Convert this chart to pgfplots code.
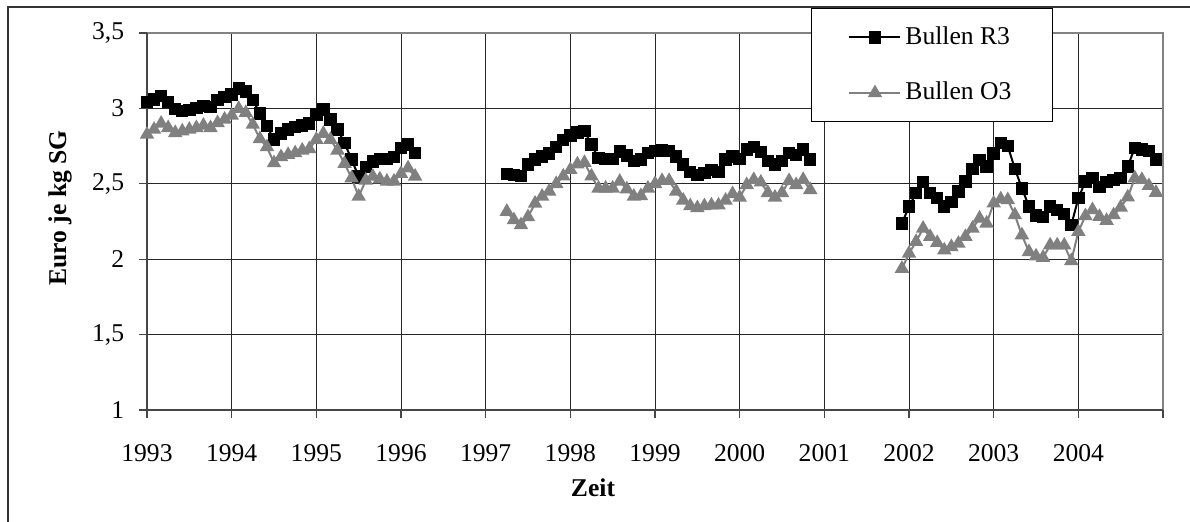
\documentclass[border=0pt]{standalone}
\usepackage{fontspec}
\setmainfont{Liberation Serif}
\usepackage{pgfplots}
\pgfplotsset{compat=1.18}
\definecolor{axgray}{RGB}{70,70,70}
\definecolor{framegray}{RGB}{130,130,130}
\definecolor{seriesgray}{RGB}{128,128,128}
\begin{document}
\fontsize{12.8}{15.4}\selectfont
\begin{tikzpicture}
\begin{axis}[
  scale only axis,
  width=508pt, height=188.5pt,
  xmin=0, xmax=144,
  ymin=1, ymax=3.5,
  xtick={0,12,24,36,48,60,72,84,96,108,120,132,144},
  xticklabels={1993,1994,1995,1996,1997,1998,1999,2000,2001,2002,2003,2004,},
  ytick={1,1.5,2,2.5,3,3.5},
  yticklabels={1,{1,5},2,{2,5},3,{3,5}},
  xtick pos=bottom, ytick pos=left,
  tick align=outside,
  major tick length=4pt,
  tick style={axgray, line width=0.6pt},
  grid=major,
  major grid style={black!85, line width=0.5pt},
  axis line style={draw=none},
  xticklabel style={yshift=-9pt},
  yticklabel style={xshift=-3pt},
  clip=false,
  unbounded coords=jump,
  xlabel={\bfseries Zeit},
  xlabel style={at={(rel axis cs:0.439,-0.207)}, anchor=center},
  ylabel={\bfseries Euro je kg SG},
  ylabel style={at={(rel axis cs:-0.0856,0.536)}, anchor=center},
  legend cell align=left,
  legend style={at={(rel axis cs:0.6535,1.066)}, anchor=north west,
    draw=black, line width=0.5pt, fill=white,
    inner xsep=18.5pt, inner ysep=7pt, row sep=13pt,
    font=\fontsize{12.8}{15.4}\selectfont},
  legend image code/.code={\draw[mark repeat=2,mark phase=2] plot coordinates {(0pt,0pt) (12.75pt,0pt) (25.5pt,0pt)};},
]
\draw[framegray, line width=0.6pt] (rel axis cs:0,1) -- (rel axis cs:1,1) -- (rel axis cs:1,0);
\draw[axgray, line width=1pt] (rel axis cs:0,1) -- (rel axis cs:0,0) -- (rel axis cs:1,0);
\coordinate (ll) at (rel axis cs:-0.14469,-0.29443);
\coordinate (ur) at (rel axis cs:1.02657,1.08753);
\coordinate (fl) at (rel axis cs:-0.13681,1.06897);
\coordinate (flb) at (rel axis cs:-0.13681,-0.4);
\coordinate (frt) at (rel axis cs:1.1,1.06897);

\addplot[black, line width=1pt, mark=square*, mark size=2.6pt, mark options={solid, fill=black}] coordinates {
(0,3.042) (1,3.060) (2,3.082) (3,3.042) (4,2.998) (5,2.982) (6,2.989) (7,3.004) (8,3.016) (9,3.011) (10,3.056) (11,3.076)
(12,3.093) (13,3.131) (14,3.111) (15,3.056) (16,2.967) (17,2.882) (18,2.793) (19,2.833) (20,2.860) (21,2.876) (22,2.887) (23,2.900)
(24,2.960) (25,2.993) (26,2.927) (27,2.860) (28,2.771) (29,2.660) (30,2.549) (31,2.611) (32,2.649) (33,2.664) (34,2.664) (35,2.678)
(36,2.738) (37,2.760) (38,2.704)
(45,nan)
(51,2.567) (52,2.560) (53,2.550) (54,2.627) (55,2.660) (56,2.680) (57,2.700) (58,2.744) (59,2.790)
(60,2.820) (61,2.840) (62,2.850) (63,2.760) (64,2.670) (65,2.665) (66,2.665) (67,2.715) (68,2.687) (69,2.650) (70,2.660) (71,2.704)
(72,2.716) (73,2.720) (74,2.716) (75,2.680) (76,2.627) (77,2.580) (78,2.560) (79,2.570) (80,2.590) (81,2.580) (82,2.660) (83,2.680)
(84,2.665) (85,2.727) (86,2.744) (87,2.710) (88,2.650) (89,2.627) (90,2.650) (91,2.704) (92,2.690) (93,2.727) (94,2.660)
(100,nan)
(107,2.238) (108,2.350) (109,2.438) (110,2.510) (111,2.440) (112,2.404) (113,2.350) (114,2.380) (115,2.450) (116,2.516) (117,2.600) (118,2.656) (119,2.616)
(120,2.700) (121,2.770) (122,2.750) (123,2.600) (124,2.470) (125,2.350) (126,2.290) (127,2.280) (128,2.350) (129,2.327) (130,2.300) (131,2.227)
(132,2.404) (133,2.516) (134,2.538) (135,2.480) (136,2.510) (137,2.527) (138,2.538) (139,2.616) (140,2.738) (141,2.727) (142,2.716) (143,2.660)
};
\addlegendentry{Bullen R3}

\addplot[seriesgray, line width=1pt, mark=triangle*, mark size=3.2pt, mark options={solid, fill=seriesgray}] coordinates {
(0,2.827) (1,2.860) (2,2.900) (3,2.871) (4,2.838) (5,2.849) (6,2.860) (7,2.871) (8,2.887) (9,2.871) (10,2.904) (11,2.927)
(12,2.953) (13,2.998) (14,2.971) (15,2.893) (16,2.798) (17,2.744) (18,2.638) (19,2.678) (20,2.693) (21,2.704) (22,2.722) (23,2.731)
(24,2.793) (25,2.833) (26,2.793) (27,2.722) (28,2.633) (29,2.538) (30,2.416) (31,2.522) (32,2.549) (33,2.531) (34,2.516) (35,2.516)
(36,2.567) (37,2.604) (38,2.549)
(45,nan)
(51,2.316) (52,2.260) (53,2.227) (54,2.280) (55,2.370) (56,2.416) (57,2.450) (58,2.500) (59,2.550)
(60,2.593) (61,2.630) (62,2.640) (63,2.550) (64,2.470) (65,2.470) (66,2.470) (67,2.515) (68,2.465) (69,2.416) (70,2.420) (71,2.470)
(72,2.500) (73,2.520) (74,2.520) (75,2.450) (76,2.390) (77,2.353) (78,2.340) (79,2.353) (80,2.358) (81,2.358) (82,2.390) (83,2.433)
(84,2.410) (85,2.493) (86,2.527) (87,2.510) (88,2.440) (89,2.410) (90,2.440) (91,2.520) (92,2.493) (93,2.527) (94,2.460)
(100,nan)
(107,1.938) (108,2.038) (109,2.116) (110,2.204) (111,2.149) (112,2.109) (113,2.060) (114,2.082) (115,2.104) (116,2.149) (117,2.204) (118,2.271) (119,2.238)
(120,2.371) (121,2.398) (122,2.393) (123,2.293) (124,2.160) (125,2.049) (126,2.020) (127,2.011) (128,2.093) (129,2.093) (130,2.093) (131,1.989)
(132,2.182) (133,2.287) (134,2.327) (135,2.282) (136,2.256) (137,2.293) (138,2.344) (139,2.411) (140,2.538) (141,2.527) (142,2.487) (143,2.442)
};
\addlegendentry{Bullen O3}
\end{axis}
\pgfresetboundingbox
\path[use as bounding box] (ll) rectangle (ur);
\draw[black!80, line width=0.6pt] (flb) -- (fl) -- (frt);
\end{tikzpicture}
\end{document}
